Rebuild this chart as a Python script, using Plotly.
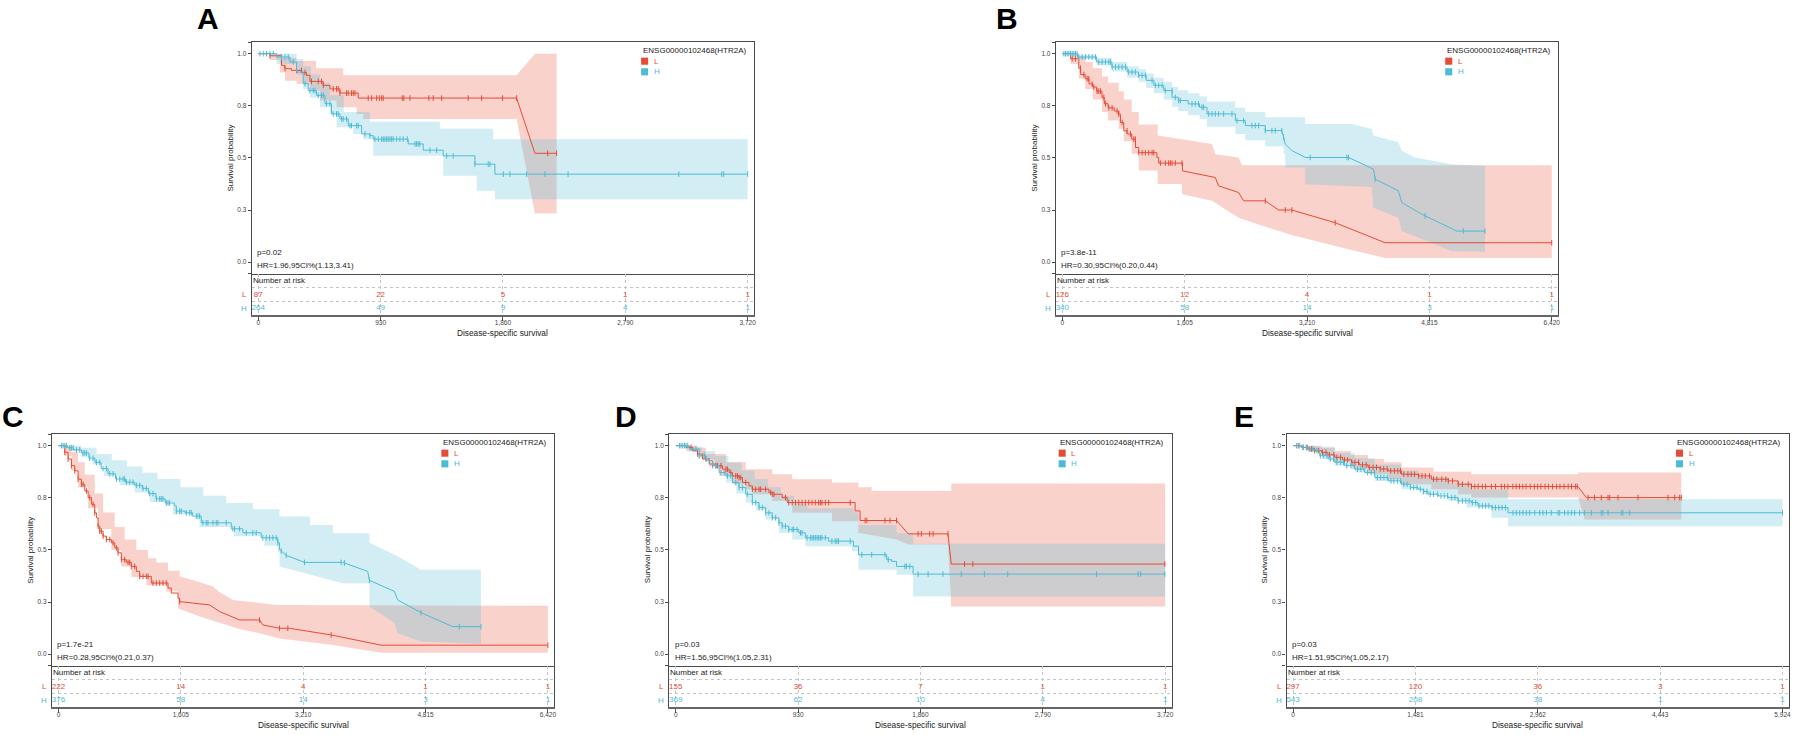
import numpy as np
import plotly.graph_objects as go

RED = "#E64B35"
BLUE = "#4DBBD5"
RED_FILL = "rgba(230,75,53,0.25)"
BLUE_FILL = "rgba(77,187,213,0.25)"
FONT = "Arial, Liberation Sans, sans-serif"
W, H = 1802, 735

GENE = "ENSG00000102468(HTR2A)"
GROUPS = ["L", "H"]
Y_TICKS = [-0.056, 0, 0.25, 0.5, 0.75, 1.0, 1.055]
Y_TICK_TEXT = ["", "0.0", "0.3", "0.5", "0.8", "1.0", ""]
X_TITLE = "Disease-specific survival"
Y_TITLE = "Survival probability"

# ---------------- panel A ----------------
A_ticks = [0, 930, 1860, 2790, 3720]
A_ticktext = ["0", "930", "1,860", "2,790", "3,720"]
A_risk_L = [87, 22, 5, 1, 1]
A_risk_H = [264, 49, 9, 4, 1]
A_p = "p=0.02"
A_hr = "HR=1.96,95CI%(1.13,3.41)"

A_L_t = [0, 89, 177, 203, 253, 330, 367, 393, 494, 545, 621, 760]
A_L_s = [1.0, 0.99, 0.944, 0.928, 0.92, 0.91, 0.896, 0.867, 0.848, 0.831, 0.811, 0.787]
A_L_tail_t = [1964, 2103, 2268]
A_L_tail_s = [0.787, 0.522, 0.522]
A_L_cens = [89, 203, 291, 329, 355, 405, 456, 481, 494, 570, 595, 608, 621, 671, 684, 709, 722, 735,
            836, 862, 900, 920, 938, 950, 1095, 1107, 1153, 1297, 1330, 1394, 1596, 1698, 1857, 1964,
            2200, 2268]
A_L_up_t = [0, 177, 290, 440, 646]
A_L_up_s = [1.0, 0.98, 0.965, 0.93, 0.896]
A_L_up_tail_t = [1964, 2103, 2268]
A_L_up_tail_s = [0.896, 1.0, 1.0]
A_L_lo_t = [0, 89, 165, 203, 291, 393, 469, 595, 748, 798]
A_L_lo_s = [1.0, 0.97, 0.91, 0.87, 0.856, 0.823, 0.775, 0.743, 0.711, 0.687]
A_L_lo_tail_t = [1964, 2103, 2268]
A_L_lo_tail_s = [0.687, 0.233, 0.233]

A_H_t = [0, 139, 241, 291, 342, 380, 443, 507, 557, 621, 684, 786, 849, 874, 1140, 1254, 1406, 1647, 1799]
A_H_s = [1.0, 0.984, 0.96, 0.912, 0.856, 0.823, 0.8, 0.76, 0.711, 0.687, 0.655, 0.615, 0.607, 0.59,
         0.567, 0.537, 0.51, 0.47, 0.422]
A_H_tail_t = [3720]
A_H_tail_s = [0.422]
A_H_cens = [13, 38, 63, 89, 114, 177, 203, 228, 266, 355, 393, 418, 431, 456, 481, 494, 519, 545, 570,
            595, 608, 634, 646, 671, 697, 709, 748, 760, 811, 849, 887, 912, 938, 950, 963, 976, 988,
            1001, 1014, 1026, 1052, 1077, 1102, 1133, 1191, 1204, 1216, 1229, 1305, 1356, 1432, 1482,
            1647, 1748, 1761, 1863, 1913, 2040, 2179, 2355, 3197, 3523, 3538, 3720]
A_H_up_t = [0, 291, 342, 400, 470, 545, 650, 849, 1381, 1786]
A_H_up_s = [1.0, 0.975, 0.94, 0.9, 0.86, 0.8, 0.72, 0.674, 0.64, 0.59]
A_H_up_tail_t = [3720]
A_H_up_tail_s = [0.59]
A_H_lo_t = [0, 139, 291, 342, 393, 469, 545, 595, 722, 798, 874, 1406, 1660, 1799]
A_H_lo_s = [1.0, 0.95, 0.9, 0.83, 0.79, 0.743, 0.711, 0.647, 0.615, 0.59, 0.51, 0.414, 0.342, 0.302]
A_H_lo_tail_t = [3720]
A_H_lo_tail_s = [0.302]

# ---------------- panel B ----------------
B_ticks = [0, 1605, 3210, 4815, 6420]
B_ticktext = ["0", "1,605", "3,210", "4,815", "6,420"]
B_risk_L = [126, 12, 4, 1, 1]
B_risk_H = [340, 58, 14, 3, 1]
B_p = "p=3.8e-11"
B_hr = "HR=0.30,95CI%(0.20,0.44)"

B_L_t = [0, 108, 216, 240, 300, 350, 400, 450, 520, 550, 600, 680, 740, 762, 806, 850, 910, 960,
         1002, 1240, 1264, 1575]
B_L_s = [1.0, 0.976, 0.93, 0.9, 0.88, 0.855, 0.84, 0.82, 0.79, 0.76, 0.74, 0.725, 0.71, 0.67, 0.63,
         0.615, 0.59, 0.55, 0.525, 0.502, 0.475, 0.438]
B_L_tail_t = [2006, 2050, 2312, 2378, 2662, 2836, 3011, 3579, 4234, 6420]
B_L_tail_s = [0.406, 0.366, 0.334, 0.294, 0.294, 0.25, 0.25, 0.189, 0.093, 0.093]
B_L_cens = [129, 172, 238, 282, 325, 347, 391, 413, 456, 478, 500, 544, 566, 609, 653, 718, 740, 784,
            849, 893, 937, 958, 1002, 1046, 1089, 1133, 1177, 1199, 1286, 1351, 1395, 1417, 1439,
            1482, 1570, 2662, 2924, 3011, 3579, 6420]
B_L_up_t = [0, 216, 300, 400, 520, 600, 740, 806, 910, 1002, 1250]
B_L_up_s = [1.0, 0.985, 0.96, 0.93, 0.89, 0.86, 0.82, 0.78, 0.72, 0.66, 0.607]
B_L_up_tail_t = [1570, 1963, 2006, 2312, 2356, 6420]
B_L_up_tail_s = [0.59, 0.567, 0.518, 0.502, 0.465, 0.465]
B_L_lo_t = [0, 108, 216, 300, 400, 520, 600, 740, 806, 910, 1002, 1250]
B_L_lo_s = [1.0, 0.95, 0.88, 0.83, 0.78, 0.72, 0.68, 0.64, 0.58, 0.52, 0.44, 0.375]
B_L_lo_tail_t = [1570, 1570, 1963, 2312, 2662, 3011, 3579, 4234, 6420]
B_L_lo_tail_s = [0.375, 0.326, 0.294, 0.213, 0.17, 0.13, 0.077, 0.02, 0.02]

B_H_t = [0, 200, 450, 650, 850, 1000, 1100, 1200, 1330, 1440, 1520, 1650, 1800, 1897, 2269, 2400, 2662]
B_H_s = [1.0, 0.984, 0.96, 0.936, 0.912, 0.896, 0.872, 0.848, 0.823, 0.791, 0.775, 0.759, 0.743,
         0.711, 0.679, 0.655, 0.631]
B_H_tail_t = [2880, 2902, 2924, 3011, 3186, 3754, 4081, 4103, 4409, 4452, 4714, 5173, 5545]
B_H_tail_s = [0.631, 0.6, 0.567, 0.535, 0.502, 0.502, 0.446, 0.398, 0.342, 0.286, 0.23, 0.149, 0.149]
B_H_cens = [20, 41, 63, 85, 107, 129, 151, 172, 194, 216, 260, 304, 347, 391, 435, 478, 522, 566, 609,
            631, 653, 697, 740, 784, 828, 871, 915, 958, 1002, 1046, 1089, 1177, 1220, 1264, 1308,
            1351, 1439, 1482, 1526, 1548, 1701, 1744, 1788, 1832, 1854, 1920, 1963, 2007, 2050, 2116,
            2225, 2291, 2378, 2487, 2531, 2575, 2662, 2749, 2793, 2880, 2902, 3251, 3732, 3754, 4103,
            4759, 5260, 5545]
B_H_up_t = [0, 200, 450, 650, 850, 1000, 1100, 1200, 1330, 1440, 1520, 1650, 1800, 1897, 2269, 2400,
            2662, 3186]
B_H_up_s = [1.0, 0.995, 0.98, 0.96, 0.94, 0.925, 0.905, 0.885, 0.865, 0.84, 0.825, 0.81, 0.795, 0.77,
            0.74, 0.72, 0.695, 0.663]
B_H_up_tail_t = [3797, 4059, 4081, 4409, 4452, 4627, 5107, 5545]
B_H_up_tail_s = [0.663, 0.639, 0.607, 0.575, 0.534, 0.502, 0.47, 0.462]
B_H_lo_t = [0, 200, 450, 650, 850, 1000, 1100, 1200, 1330, 1440, 1520, 1650, 1800, 1897, 2269, 2400,
            2662, 2902, 2924, 3186]
B_H_lo_s = [1.0, 0.975, 0.945, 0.915, 0.885, 0.865, 0.835, 0.81, 0.78, 0.745, 0.725, 0.705, 0.685,
            0.65, 0.615, 0.585, 0.555, 0.52, 0.454, 0.374]
B_H_lo_tail_t = [4059, 4081, 4409, 4452, 5107, 5545]
B_H_lo_tail_s = [0.36, 0.261, 0.213, 0.149, 0.053, 0.05]

# ---------------- panel C ----------------
C_ticks = [0, 1605, 3210, 4815, 6420]
C_ticktext = ["0", "1,605", "3,210", "4,815", "6,420"]
C_risk_L = [222, 14, 4, 1, 1]
C_risk_H = [376, 58, 14, 3, 1]
C_p = "p=1.7e-21"
C_hr = "HR=0.28,95CI%(0.21,0.37)"

C_L_t = [0, 83, 127, 170, 214, 258, 301, 345, 389, 432, 476, 498, 520, 542, 585, 629, 694, 738, 782,
         825, 891, 956, 1022, 1066, 1218, 1437, 1480, 1568, 1590]
C_L_s = [1.0, 0.968, 0.936, 0.904, 0.879, 0.839, 0.815, 0.783, 0.751, 0.719, 0.678, 0.654, 0.614,
         0.59, 0.566, 0.55, 0.534, 0.51, 0.486, 0.453, 0.44, 0.421, 0.397, 0.373, 0.341, 0.317, 0.293,
         0.268, 0.252]
C_L_tail_t = [1983, 2114, 2376, 2638, 2681, 2900, 3031, 3577, 4232, 6420]
C_L_tail_s = [0.236, 0.204, 0.164, 0.164, 0.14, 0.124, 0.124, 0.092, 0.043, 0.043]
C_L_cens = [83, 127, 170, 214, 258, 301, 323, 367, 410, 454, 476, 520, 542, 563, 585, 629, 673, 716,
            760, 782, 825, 869, 913, 935, 956, 1000, 1066, 1109, 1153, 1175, 1240, 1284, 1328, 1371,
            1415, 1590, 2638, 2900, 3009, 3577, 6420]
C_L_up_t = [0, 170, 258, 345, 476, 585, 738, 869, 1022, 1175, 1284, 1437, 1590]
C_L_up_s = [1.0, 0.97, 0.92, 0.86, 0.77, 0.68, 0.61, 0.55, 0.5, 0.46, 0.44, 0.4, 0.373]
C_L_up_tail_t = [2026, 2100, 2288, 2856, 6420]
C_L_up_tail_s = [0.325, 0.3, 0.26, 0.236, 0.232]
C_L_lo_t = [0, 83, 170, 258, 389, 520, 694, 825, 956, 1153, 1415, 1568]
C_L_lo_s = [1.0, 0.95, 0.88, 0.8, 0.7, 0.6, 0.5, 0.42, 0.37, 0.33, 0.3, 0.22]
C_L_lo_tail_t = [1850, 2376, 2638, 2900, 3577, 4232, 6420]
C_L_lo_tail_s = [0.18, 0.12, 0.1, 0.075, 0.045, 0.006, 0.006]

C_H_t = [0, 120, 200, 300, 400, 480, 560, 650, 750, 880, 1000, 1100, 1180, 1280, 1400, 1520, 1546,
         1660, 1760, 1873, 2267, 2419, 2659, 2878, 2900]
C_H_s = [1.0, 0.99, 0.98, 0.965, 0.94, 0.92, 0.89, 0.865, 0.84, 0.825, 0.81, 0.795, 0.77, 0.745,
         0.725, 0.711, 0.686, 0.678, 0.662, 0.63, 0.601, 0.582, 0.558, 0.534, 0.502]
C_H_tail_t = [2987, 3227, 3729, 4057, 4079, 4406, 4450, 4756, 5170, 5542]
C_H_tail_s = [0.474, 0.44, 0.44, 0.397, 0.354, 0.301, 0.26, 0.199, 0.132, 0.132]
C_H_cens = [39, 61, 83, 105, 148, 170, 192, 236, 279, 323, 345, 367, 410, 454, 498, 542, 585, 629,
            673, 716, 760, 804, 847, 869, 891, 935, 978, 1022, 1066, 1109, 1153, 1197, 1240, 1284,
            1328, 1349, 1371, 1415, 1437, 1459, 1546, 1590, 1611, 1677, 1721, 1742, 1808, 1830, 1852,
            1895, 1939, 1961, 2026, 2070, 2092, 2201, 2288, 2310, 2376, 2463, 2550, 2594, 2681, 2725,
            2769, 2812, 2856, 2878, 2922, 2987, 3227, 3708, 3751, 4079, 4756, 5258, 5542]
C_H_up_t = [0, 300, 500, 700, 900, 1100, 1300, 1600, 1900, 2200, 2550, 2900, 3300, 3600, 4079]
C_H_up_s = [1.0, 0.99, 0.96, 0.93, 0.9, 0.87, 0.84, 0.8, 0.76, 0.725, 0.695, 0.66, 0.62, 0.58, 0.534]
C_H_up_tail_t = [4450, 4756, 5542]
C_H_up_tail_s = [0.47, 0.405, 0.405]
C_H_lo_t = [0, 150, 300, 450, 600, 800, 1000, 1200, 1500, 1850, 2300, 2700, 2878, 2900]
C_H_lo_s = [1.0, 0.975, 0.945, 0.91, 0.855, 0.81, 0.775, 0.73, 0.67, 0.61, 0.565, 0.52, 0.49, 0.42]
C_H_lo_tail_t = [3227, 3729, 4079, 4079, 4406, 4450, 4756, 5542]
C_H_lo_tail_s = [0.39, 0.34, 0.34, 0.228, 0.15, 0.1, 0.06, 0.05]

# ---------------- panel D ----------------
D_ticks = [0, 930, 1860, 2790, 3720]
D_ticktext = ["0", "930", "1,860", "2,790", "3,720"]
D_risk_L = [155, 36, 7, 1, 1]
D_risk_H = [369, 62, 10, 4, 1]
D_p = "p=0.03"
D_hr = "HR=1.56,95CI%(1.05,2.31)"

D_L_t = [0, 78, 129, 166, 204, 255, 305, 355, 406, 431, 481, 507, 557, 582, 708, 733, 809, 847, 1363, 1401]
D_L_s = [1.0, 0.992, 0.976, 0.96, 0.936, 0.912, 0.904, 0.887, 0.871, 0.855, 0.847, 0.823, 0.807,
         0.791, 0.775, 0.767, 0.751, 0.727, 0.687, 0.641]
D_L_tail_t = [1678, 1767, 2069, 2094, 3720]
D_L_tail_s = [0.641, 0.577, 0.577, 0.432, 0.432]
D_L_cens = [116, 166, 229, 280, 305, 318, 343, 381, 393, 418, 431, 456, 469, 481, 494, 532, 582, 607,
            633, 645, 683, 721, 733, 746, 834, 859, 885, 910, 935, 960, 985, 1011, 1036, 1061, 1086,
            1099, 1111, 1137, 1162, 1326, 1439, 1452, 1590, 1628, 1678, 1842, 1867, 1930, 1956, 2069,
            2195, 2258, 3717]
D_L_up_t = [0, 160, 229, 381, 532, 733, 885, 1187, 1388, 1489]
D_L_up_s = [1.0, 0.99, 0.96, 0.92, 0.887, 0.863, 0.839, 0.823, 0.8, 0.783]
D_L_up_tail_t = [2094, 2094, 3720]
D_L_up_tail_s = [0.783, 0.818, 0.818]
D_L_lo_t = [0, 80, 170, 250, 330, 431, 532, 582, 733, 885, 1187, 1388]
D_L_lo_s = [1.0, 0.975, 0.94, 0.9, 0.855, 0.815, 0.791, 0.767, 0.735, 0.678, 0.638, 0.582]
D_L_lo_tail_t = [1678, 1767, 2069, 2094, 3720]
D_L_lo_tail_s = [0.55, 0.526, 0.526, 0.228, 0.228]

D_H_t = [0, 103, 179, 229, 280, 330, 381, 431, 481, 532, 582, 633, 683, 733, 784, 809, 859, 935, 985,
         1162, 1351, 1389, 1603, 1641, 1678, 1804]
D_H_s = [1.0, 0.984, 0.952, 0.928, 0.904, 0.871, 0.855, 0.823, 0.799, 0.767, 0.727, 0.703, 0.678,
         0.654, 0.63, 0.614, 0.598, 0.582, 0.558, 0.542, 0.518, 0.477, 0.453, 0.445, 0.421, 0.384]
D_H_tail_t = [3720]
D_H_tail_s = [0.384]
D_H_cens = [28, 40, 53, 66, 78, 91, 154, 179, 217, 255, 280, 305, 343, 368, 393, 418, 456, 481, 507,
            544, 582, 607, 633, 658, 683, 708, 733, 759, 784, 809, 834, 859, 885, 897, 922, 948, 960,
            998, 1023, 1036, 1048, 1061, 1074, 1086, 1099, 1111, 1137, 1187, 1212, 1225, 1237, 1326,
            1414, 1489, 1590, 1615, 1741, 1754, 1779, 1842, 1918, 2031, 2170, 2346, 2523, 3198, 3514,
            3534, 3717]
D_H_up_t = [0, 110, 200, 300, 400, 500, 600, 700, 800, 900, 1000, 1351, 1389, 1678, 1804]
D_H_up_s = [1.0, 0.995, 0.975, 0.95, 0.92, 0.88, 0.84, 0.8, 0.76, 0.72, 0.7, 0.68, 0.62, 0.58, 0.529]
D_H_up_tail_t = [3720]
D_H_up_tail_s = [0.529]
D_H_lo_t = [0, 100, 200, 300, 381, 460, 532, 610, 683, 784, 885, 985, 1338, 1389, 1678, 1804]
D_H_lo_s = [1.0, 0.97, 0.935, 0.89, 0.823, 0.77, 0.727, 0.69, 0.646, 0.582, 0.55, 0.518, 0.494,
            0.405, 0.381, 0.277]
D_H_lo_tail_t = [3720]
D_H_lo_tail_s = [0.277]

# ---------------- panel E ----------------
E_ticks = [0, 1481, 2962, 4443, 5924]
E_ticktext = ["0", "1,481", "2,962", "4,443", "5,924"]
E_risk_L = [297, 120, 36, 3, 1]
E_risk_H = [543, 208, 38, 1, 1]
E_p = "p=0.03"
E_hr = "HR=1.51,95CI%(1.05,2.17)"

E_L_t = [0, 100, 182, 260, 343, 420, 504, 600, 706, 800, 908, 1050, 1150, 1311, 1513, 1674, 1876,
         1997, 2158]
E_L_s = [1.0, 0.992, 0.984, 0.976, 0.968, 0.956, 0.944, 0.932, 0.92, 0.908, 0.896, 0.888, 0.879,
         0.863, 0.855, 0.839, 0.831, 0.815, 0.804]
E_L_tail_t = [3449, 3550, 4699]
E_L_tail_s = [0.804, 0.751, 0.751]
E_L_cens = [61, 121, 170, 222, 262, 310, 355, 398, 440, 492, 530, 575, 622, 660, 712, 748, 793, 840,
            885, 923, 968, 1010, 1056, 1097, 1140, 1182, 1226, 1268, 1300, 1340, 1390, 1430, 1470,
            1520, 1560, 1600, 1650, 1700, 1740, 1800, 1850, 1880, 1930, 2000, 2050, 2120, 2160, 2200,
            2240, 2290, 2330, 2400, 2450, 2520, 2560, 2600, 2660, 2700, 2740, 2780, 2820, 2870, 2920,
            2960, 3000, 3050, 3090, 3140, 3190, 3230, 3280, 3330, 3370, 3420, 3440, 3570, 3650, 3731,
            3812, 3832, 3933, 4175, 4538, 4619, 4679, 4699]
E_L_up_t = [0, 343, 504, 700, 908, 1100, 1311, 1700, 2158, 3449]
E_L_up_s = [1.0, 0.99, 0.975, 0.955, 0.936, 0.92, 0.895, 0.875, 0.863, 0.871]
E_L_up_tail_t = [4699]
E_L_up_tail_s = [0.871]
E_L_lo_t = [0, 182, 343, 504, 706, 908, 1150, 1311, 1674, 1997, 2158]
E_L_lo_s = [1.0, 0.97, 0.952, 0.92, 0.887, 0.863, 0.839, 0.815, 0.791, 0.767, 0.751]
E_L_lo_tail_t = [3449, 3530, 4699]
E_L_lo_tail_s = [0.751, 0.646, 0.646]

E_H_t = [0, 101, 180, 262, 323, 424, 504, 625, 746, 868, 989, 1150, 1311, 1420, 1513, 1580, 1634,
         1760, 1876, 1997, 2158, 2239, 2400, 2602]
E_H_s = [1.0, 0.992, 0.984, 0.976, 0.952, 0.936, 0.92, 0.904, 0.887, 0.871, 0.847, 0.831, 0.815,
         0.799, 0.791, 0.78, 0.767, 0.759, 0.751, 0.735, 0.727, 0.711, 0.703, 0.678]
E_H_tail_t = [5924]
E_H_tail_s = [0.678]
E_H_cens = [40, 80, 120, 160, 200, 240, 290, 330, 370, 410, 450, 490, 530, 575, 610, 650, 700, 740,
            780, 820, 860, 900, 945, 985, 1020, 1060, 1100, 1140, 1185, 1220, 1265, 1300, 1340, 1380,
            1420, 1460, 1500, 1540, 1580, 1620, 1660, 1700, 1750, 1790, 1830, 1870, 1920, 1960, 2000,
            2050, 2090, 2130, 2170, 2210, 2250, 2290, 2330, 2370, 2410, 2450, 2490, 2530, 2570, 2662,
            2703, 2743, 2783, 2824, 2864, 2925, 2985, 3025, 3066, 3126, 3207, 3227, 3287, 3328, 3368,
            3408, 3469, 3529, 3610, 3731, 3751, 3812, 3973, 3993, 4074, 5924]
E_H_up_t = [0, 262, 504, 746, 989, 1311, 1513, 1876, 2158, 2602]
E_H_up_s = [1.0, 0.995, 0.965, 0.94, 0.91, 0.88, 0.85, 0.82, 0.79, 0.743]
E_H_up_tail_t = [5924]
E_H_up_tail_s = [0.743]
E_H_lo_t = [0, 150, 343, 504, 746, 989, 1311, 1553, 1876, 2100, 2400, 2602]
E_H_lo_s = [1.0, 0.975, 0.936, 0.904, 0.871, 0.831, 0.791, 0.767, 0.735, 0.703, 0.654, 0.614]
E_H_lo_tail_t = [5924]
E_H_lo_tail_s = [0.614]


def stairs(ts, ss, tail_t, tail_s):
    # Kaplan-Meier style step path followed by a free polyline tail
    xs, ys = [ts[0]], [ss[0]]
    for t, s in zip(ts[1:], ss[1:]):
        xs += [t, t]
        ys += [ys[-1], s]
    return np.array(xs + list(tail_t), float), np.array(ys + list(tail_s), float)


g = globals()
PANELS = ["A", "B", "C", "D", "E"]
# box left, box top, letter x, letter top (pixels)
GEOM = {"A": (252, 42, 195, 0), "B": (1057, 42, 995, 0),
        "C": (52, 434, 0, 398), "D": (670, 434, 614, 398), "E": (1288, 434, 1233, 398)}
PW, PH, TH = 503, 232, 41

fig = go.Figure()
layout = dict(annotations=[], shapes=[])
txt = dict(family=FONT, size=8, color="#222")


def axkey(kind, n):
    return kind + ("" if n == 1 else str(n))


for i, p in enumerate(PANELS):
    left, top, lx, ly = GEOM[p]
    m, n = 2 * i + 1, 2 * i + 2
    xm, ym, xt, yt = axkey("x", m), axkey("y", m), axkey("x", n), axkey("y", n)
    ticks = g[p + "_ticks"]
    T = ticks[-1]
    rng = [-0.0133 * T, 1.0133 * T]
    xdom = [left / W, (left + PW) / W]

    layout[axkey("xaxis", m)] = dict(domain=xdom, range=rng, anchor=ym, showline=True, mirror=True,
                                     linecolor="#4a4a4a", linewidth=1.2, showgrid=False, zeroline=False,
                                     showticklabels=False, ticks="")
    layout[axkey("yaxis", m)] = dict(domain=[1 - (top + PH) / H, 1 - top / H], range=[-0.057, 1.056],
                                     anchor=xm, showline=True, mirror=True, linecolor="#4a4a4a",
                                     linewidth=1.2, showgrid=False, zeroline=False, ticks="outside",
                                     ticklen=3, tickwidth=1, tickcolor="#4a4a4a",
                                     tickvals=Y_TICKS, ticktext=Y_TICK_TEXT,
                                     tickfont=dict(family=FONT, size=6.5, color="#444"))
    layout[axkey("xaxis", n)] = dict(domain=xdom, range=rng, anchor=yt, showline=True, mirror=False,
                                     linecolor="#666", linewidth=2, showgrid=True, gridcolor="#c4c4c4",
                                     griddash="dot", gridwidth=0.8, zeroline=False, ticks="outside",
                                     ticklen=4, tickcolor="#555", tickvals=ticks,
                                     ticktext=g[p + "_ticktext"], ticklabelstandoff=-4,
                                     tickfont=dict(family=FONT, size=6.5, color="#444"))
    layout[axkey("yaxis", n)] = dict(domain=[1 - (top + PH + TH) / H, 1 - (top + PH) / H], range=[0, 3],
                                     anchor=xt, showline=True, mirror=True, linecolor="#4a4a4a",
                                     linewidth=1.2, showgrid=True, gridcolor="#c4c4c4", griddash="dot",
                                     gridwidth=0.8, zeroline=False, tickvals=[1, 2],
                                     showticklabels=False, ticks="")

    # confidence bands (red first, blue on top so the overlap turns grey)
    for grp, fill in (("L", RED_FILL), ("H", BLUE_FILL)):
        ux, uy = stairs(g[f"{p}_{grp}_up_t"], g[f"{p}_{grp}_up_s"],
                        g[f"{p}_{grp}_up_tail_t"], g[f"{p}_{grp}_up_tail_s"])
        lo_x, lo_y = stairs(g[f"{p}_{grp}_lo_t"], g[f"{p}_{grp}_lo_s"],
                            g[f"{p}_{grp}_lo_tail_t"], g[f"{p}_{grp}_lo_tail_s"])
        fig.add_trace(go.Scatter(x=np.concatenate([ux, lo_x[::-1]]), y=np.concatenate([uy, lo_y[::-1]]),
                                 fill="toself", fillcolor=fill, mode="lines", line=dict(width=0),
                                 xaxis=xm, yaxis=ym, hoverinfo="skip", showlegend=False))

    # survival curves + censor ticks
    for grp, col in (("L", RED), ("H", BLUE)):
        cx, cy = stairs(g[f"{p}_{grp}_t"], g[f"{p}_{grp}_s"],
                        g[f"{p}_{grp}_tail_t"], g[f"{p}_{grp}_tail_s"])
        fig.add_trace(go.Scatter(x=cx, y=cy, mode="lines", line=dict(color=col, width=1),
                                 xaxis=xm, yaxis=ym, name=grp, showlegend=False))
        cens = np.array(g[f"{p}_{grp}_cens"], float)
        fig.add_trace(go.Scatter(x=cens, y=np.interp(cens, cx, cy), mode="markers",
                                 marker=dict(symbol="line-ns", size=4, line=dict(width=1, color=col)),
                                 xaxis=xm, yaxis=ym, hoverinfo="skip", showlegend=False))

    # number-at-risk table
    for grp, col, row in (("L", RED, 1.5), ("H", BLUE, 0.5)):
        fig.add_trace(go.Scatter(x=ticks, y=[row] * len(ticks), mode="text",
                                 text=[str(v) for v in g[f"{p}_risk_{grp}"]],
                                 textfont=dict(family=FONT, size=8, color=col), cliponaxis=False,
                                 xaxis=xt, yaxis=yt, hoverinfo="skip", showlegend=False))
        layout["annotations"].append(dict(text=grp, xref=f"{xt} domain", x=-0.006, yref=yt, y=row,
                                          xanchor="right", yanchor="middle", showarrow=False,
                                          font=dict(family=FONT, size=8, color=col)))
    layout["annotations"].append(dict(text="Number at risk", xref=f"{xt} domain", x=-0.002, yref=yt,
                                      y=2.5, xanchor="left", yanchor="middle", showarrow=False, font=txt))

    # texts in the plot
    ann = layout["annotations"]
    ann.append(dict(text=p, xref="paper", x=lx / W, yref="paper", y=1 - ly / H, xanchor="left",
                    yanchor="top", showarrow=False,
                    font=dict(family=FONT, size=30, color="#000", weight="bold")))
    ann.append(dict(text=Y_TITLE, xref=f"{xm} domain", x=-0.044, yref=f"{ym} domain", y=0.5,
                    textangle=-90, xanchor="center", yanchor="middle", showarrow=False, font=txt))
    ann.append(dict(text=X_TITLE, xref=f"{xt} domain", x=0.5, yref="paper",
                    y=1 - (top + PH + TH + 18) / H, xanchor="center", yanchor="middle",
                    showarrow=False, font=dict(family=FONT, size=8.3, color="#222")))
    ann.append(dict(text=g[p + "_p"], xref=f"{xm} domain", x=0.007, yref=ym, y=0.045,
                    xanchor="left", yanchor="middle", showarrow=False, font=txt))
    ann.append(dict(text=g[p + "_hr"], xref=f"{xm} domain", x=0.007, yref=ym, y=-0.018,
                    xanchor="left", yanchor="middle", showarrow=False, font=txt))
    ann.append(dict(text=GENE, xref=f"{xm} domain", x=0.774, yref=ym, y=1.016,
                    xanchor="left", yanchor="middle", showarrow=False, font=txt))
    for grp, col, yy in (("L", RED, 0.964), ("H", BLUE, 0.913)):
        ann.append(dict(text=grp, xref=f"{xm} domain", x=0.796, yref=ym, y=yy, xanchor="left",
                        yanchor="middle", showarrow=False, font=dict(family=FONT, size=8, color=col)))
        layout["shapes"].append(dict(type="rect", xref=f"{xm} domain", x0=0.775, x1=0.789, yref=ym,
                                     y0=yy - 0.017, y1=yy + 0.017, fillcolor=col, line=dict(width=0)))

fig.update_layout(**layout)
fig.update_layout(width=W, height=H, margin=dict(l=0, r=0, t=0, b=0), paper_bgcolor="white",
                  plot_bgcolor="white", showlegend=False, font=dict(family=FONT))
fig.write_html("out.html", config={"displayModeBar": False},
               post_script="document.body.style.margin='0';document.body.style.overflow='hidden';")
